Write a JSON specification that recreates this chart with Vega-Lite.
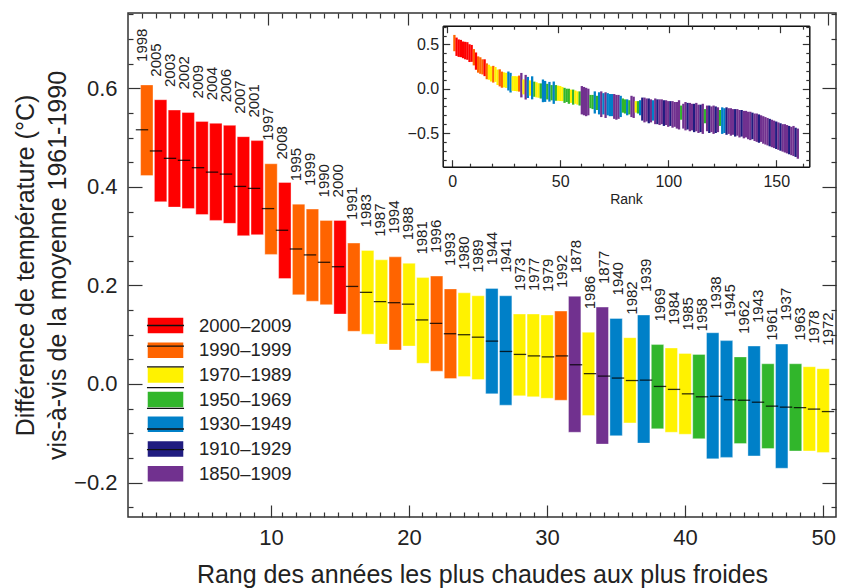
{
"$schema": "https://vega.github.io/schema/vega-lite/v6.json",
"width": 708, "height": 504,
"autosize": {"type": "none"},
"padding": {"left": 128, "top": 13, "right": 16, "bottom": 71},
"config": {
 "font": "Liberation Sans",
 "view": {"stroke": "#333", "strokeWidth": 1.5},
 "axis": {"domain": false, "grid": false, "labelColor": "#222", "titleColor": "#222", "tickColor": "#333", "tickWidth": 1.2, "titleFontWeight": "normal", "labelOverlap": false, "labelFlush": false}
},
"data": {"values": [
{"rank":1,"year":"1998","group":"1990–1999","hi":0.607,"mid":0.516,"lo":0.423},
{"rank":2,"year":"2005","group":"2000–2009","hi":0.577,"mid":0.473,"lo":0.370},
{"rank":3,"year":"2003","group":"2000–2009","hi":0.556,"mid":0.458,"lo":0.359},
{"rank":4,"year":"2002","group":"2000–2009","hi":0.551,"mid":0.454,"lo":0.356},
{"rank":5,"year":"2009","group":"2000–2009","hi":0.533,"mid":0.439,"lo":0.344},
{"rank":6,"year":"2004","group":"2000–2009","hi":0.529,"mid":0.430,"lo":0.332},
{"rank":7,"year":"2006","group":"2000–2009","hi":0.525,"mid":0.426,"lo":0.326},
{"rank":8,"year":"2007","group":"2000–2009","hi":0.502,"mid":0.401,"lo":0.301},
{"rank":9,"year":"2001","group":"2000–2009","hi":0.494,"mid":0.397,"lo":0.303},
{"rank":10,"year":"1997","group":"1990–1999","hi":0.447,"mid":0.356,"lo":0.263},
{"rank":11,"year":"2008","group":"2000–2009","hi":0.409,"mid":0.312,"lo":0.214},
{"rank":12,"year":"1995","group":"1990–1999","hi":0.365,"mid":0.274,"lo":0.181},
{"rank":13,"year":"1999","group":"1990–1999","hi":0.355,"mid":0.262,"lo":0.168},
{"rank":14,"year":"1990","group":"1990–1999","hi":0.332,"mid":0.247,"lo":0.161},
{"rank":15,"year":"2000","group":"2000–2009","hi":0.332,"mid":0.238,"lo":0.142},
{"rank":16,"year":"1991","group":"1990–1999","hi":0.286,"mid":0.198,"lo":0.107},
{"rank":17,"year":"1983","group":"1970–1989","hi":0.271,"mid":0.186,"lo":0.101},
{"rank":18,"year":"1987","group":"1970–1989","hi":0.252,"mid":0.167,"lo":0.081},
{"rank":19,"year":"1994","group":"1990–1999","hi":0.258,"mid":0.165,"lo":0.069},
{"rank":20,"year":"1988","group":"1970–1989","hi":0.245,"mid":0.162,"lo":0.077},
{"rank":21,"year":"1981","group":"1970–1989","hi":0.216,"mid":0.130,"lo":0.042},
{"rank":22,"year":"1996","group":"1990–1999","hi":0.219,"mid":0.123,"lo":0.026},
{"rank":23,"year":"1993","group":"1990–1999","hi":0.193,"mid":0.102,"lo":0.011},
{"rank":24,"year":"1980","group":"1970–1989","hi":0.185,"mid":0.100,"lo":0.015},
{"rank":25,"year":"1989","group":"1970–1989","hi":0.179,"mid":0.095,"lo":0.009},
{"rank":26,"year":"1944","group":"1930–1949","hi":0.194,"mid":0.087,"lo":-0.020},
{"rank":27,"year":"1941","group":"1930–1949","hi":0.179,"mid":0.066,"lo":-0.043},
{"rank":28,"year":"1973","group":"1970–1989","hi":0.142,"mid":0.060,"lo":-0.024},
{"rank":29,"year":"1977","group":"1970–1989","hi":0.142,"mid":0.057,"lo":-0.026},
{"rank":30,"year":"1979","group":"1970–1989","hi":0.140,"mid":0.055,"lo":-0.029},
{"rank":31,"year":"1992","group":"1990–1999","hi":0.148,"mid":0.057,"lo":-0.033},
{"rank":32,"year":"1878","group":"1850–1909","hi":0.178,"mid":0.039,"lo":-0.098},
{"rank":33,"year":"1986","group":"1970–1989","hi":0.105,"mid":0.021,"lo":-0.064},
{"rank":34,"year":"1877","group":"1850–1909","hi":0.156,"mid":0.016,"lo":-0.122},
{"rank":35,"year":"1940","group":"1930–1949","hi":0.133,"mid":0.012,"lo":-0.105},
{"rank":36,"year":"1982","group":"1970–1989","hi":0.094,"mid":0.007,"lo":-0.079},
{"rank":37,"year":"1939","group":"1930–1949","hi":0.140,"mid":0.008,"lo":-0.120},
{"rank":38,"year":"1969","group":"1950–1969","hi":0.080,"mid":-0.005,"lo":-0.091},
{"rank":39,"year":"1984","group":"1970–1989","hi":0.073,"mid":-0.011,"lo":-0.098},
{"rank":40,"year":"1985","group":"1970–1989","hi":0.062,"mid":-0.020,"lo":-0.102},
{"rank":41,"year":"1958","group":"1950–1969","hi":0.060,"mid":-0.026,"lo":-0.111},
{"rank":42,"year":"1938","group":"1930–1949","hi":0.104,"mid":-0.025,"lo":-0.152},
{"rank":43,"year":"1945","group":"1930–1949","hi":0.088,"mid":-0.032,"lo":-0.149},
{"rank":44,"year":"1962","group":"1950–1969","hi":0.055,"mid":-0.033,"lo":-0.121},
{"rank":45,"year":"1943","group":"1930–1949","hi":0.077,"mid":-0.037,"lo":-0.146},
{"rank":46,"year":"1961","group":"1950–1969","hi":0.041,"mid":-0.045,"lo":-0.131},
{"rank":47,"year":"1937","group":"1930–1949","hi":0.081,"mid":-0.047,"lo":-0.171},
{"rank":48,"year":"1963","group":"1950–1969","hi":0.041,"mid":-0.048,"lo":-0.136},
{"rank":49,"year":"1978","group":"1970–1989","hi":0.035,"mid":-0.051,"lo":-0.136},
{"rank":50,"year":"1972","group":"1970–1989","hi":0.031,"mid":-0.056,"lo":-0.139},
{"rank":51,"group":"1970–1989","hi":0.02,"lo":-0.14},
{"rank":52,"group":"1950–1969","hi":0.01,"lo":-0.16},
{"rank":53,"group":"1950–1969","hi":0.00,"lo":-0.15},
{"rank":54,"group":"1950–1969","hi":0.00,"lo":-0.17},
{"rank":55,"group":"1970–1989","hi":-0.01,"lo":-0.16},
{"rank":56,"group":"1950–1969","hi":-0.01,"lo":-0.18},
{"rank":57,"group":"1970–1989","hi":-0.02,"lo":-0.17},
{"rank":58,"group":"1970–1989","hi":-0.03,"lo":-0.18},
{"rank":59,"group":"1950–1969","hi":-0.03,"lo":-0.19},
{"rank":60,"group":"1850–1909","hi":0.03,"lo":-0.29},
{"rank":61,"group":"1850–1909","hi":0.02,"lo":-0.30},
{"rank":62,"group":"1850–1909","hi":0.01,"lo":-0.31},
{"rank":63,"group":"1850–1909","hi":0.00,"lo":-0.30},
{"rank":64,"group":"1950–1969","hi":-0.07,"lo":-0.22},
{"rank":65,"group":"1950–1969","hi":-0.07,"lo":-0.23},
{"rank":66,"group":"1930–1949","hi":-0.03,"lo":-0.28},
{"rank":67,"group":"1950–1969","hi":-0.08,"lo":-0.24},
{"rank":68,"group":"1930–1949","hi":-0.04,"lo":-0.29},
{"rank":69,"group":"1850–1909","hi":-0.03,"lo":-0.32},
{"rank":70,"group":"1930–1949","hi":-0.05,"lo":-0.29},
{"rank":71,"group":"1850–1909","hi":-0.04,"lo":-0.33},
{"rank":72,"group":"1930–1949","hi":-0.05,"lo":-0.30},
{"rank":73,"group":"1930–1949","hi":-0.06,"lo":-0.31},
{"rank":74,"group":"1930–1949","hi":-0.06,"lo":-0.31},
{"rank":75,"group":"1850–1909","hi":-0.06,"lo":-0.34},
{"rank":76,"group":"1850–1909","hi":-0.07,"lo":-0.35},
{"rank":77,"group":"1850–1909","hi":-0.07,"lo":-0.34},
{"rank":78,"group":"1930–1949","hi":-0.08,"lo":-0.32},
{"rank":79,"group":"1950–1969","hi":-0.11,"lo":-0.27},
{"rank":80,"group":"1950–1969","hi":-0.12,"lo":-0.28},
{"rank":81,"group":"1930–1949","hi":-0.12,"lo":-0.30},
{"rank":82,"group":"1950–1969","hi":-0.13,"lo":-0.29},
{"rank":83,"group":"1850–1909","hi":-0.08,"lo":-0.32},
{"rank":84,"group":"1850–1909","hi":-0.09,"lo":-0.33},
{"rank":85,"group":"1970–1989","hi":-0.14,"lo":-0.27},
{"rank":86,"group":"1950–1969","hi":-0.14,"lo":-0.28},
{"rank":87,"group":"1930–1949","hi":-0.13,"lo":-0.30},
{"rank":88,"group":"1910–1929","hi":-0.10,"lo":-0.36},
{"rank":89,"group":"1850–1909","hi":-0.10,"lo":-0.38},
{"rank":90,"group":"1850–1909","hi":-0.11,"lo":-0.37},
{"rank":91,"group":"1910–1929","hi":-0.11,"lo":-0.39},
{"rank":92,"group":"1850–1909","hi":-0.12,"lo":-0.38},
{"rank":93,"group":"1930–1949","hi":-0.13,"lo":-0.36},
{"rank":94,"group":"1850–1909","hi":-0.11,"lo":-0.40},
{"rank":95,"group":"1910–1929","hi":-0.12,"lo":-0.40},
{"rank":96,"group":"1850–1909","hi":-0.12,"lo":-0.41},
{"rank":97,"group":"1850–1909","hi":-0.12,"lo":-0.40},
{"rank":98,"group":"1910–1929","hi":-0.13,"lo":-0.42},
{"rank":99,"group":"1850–1909","hi":-0.13,"lo":-0.41},
{"rank":100,"group":"1850–1909","hi":-0.14,"lo":-0.43},
{"rank":101,"group":"1910–1929","hi":-0.14,"lo":-0.42},
{"rank":102,"group":"1850–1909","hi":-0.14,"lo":-0.44},
{"rank":103,"group":"1850–1909","hi":-0.15,"lo":-0.43},
{"rank":104,"group":"1850–1909","hi":-0.15,"lo":-0.45},
{"rank":105,"group":"1850–1909","hi":-0.13,"lo":-0.46},
{"rank":106,"group":"1950–1969","hi":-0.19,"lo":-0.35},
{"rank":107,"group":"1850–1909","hi":-0.17,"lo":-0.45},
{"rank":108,"group":"1850–1909","hi":-0.15,"lo":-0.47},
{"rank":109,"group":"1910–1929","hi":-0.16,"lo":-0.46},
{"rank":110,"group":"1850–1909","hi":-0.16,"lo":-0.48},
{"rank":111,"group":"1850–1909","hi":-0.17,"lo":-0.47},
{"rank":112,"group":"1910–1929","hi":-0.17,"lo":-0.49},
{"rank":113,"group":"1850–1909","hi":-0.16,"lo":-0.48},
{"rank":114,"group":"1850–1909","hi":-0.18,"lo":-0.50},
{"rank":115,"group":"1910–1929","hi":-0.18,"lo":-0.49},
{"rank":116,"group":"1850–1909","hi":-0.17,"lo":-0.51},
{"rank":117,"group":"1950–1969","hi":-0.23,"lo":-0.39},
{"rank":118,"group":"1850–1909","hi":-0.19,"lo":-0.48},
{"rank":119,"group":"1910–1929","hi":-0.19,"lo":-0.50},
{"rank":120,"group":"1850–1909","hi":-0.20,"lo":-0.49},
{"rank":121,"group":"1850–1909","hi":-0.19,"lo":-0.51},
{"rank":122,"group":"1910–1929","hi":-0.20,"lo":-0.50},
{"rank":123,"group":"1850–1909","hi":-0.21,"lo":-0.49},
{"rank":124,"group":"1950–1969","hi":-0.24,"lo":-0.42},
{"rank":125,"group":"1930–1949","hi":-0.21,"lo":-0.51},
{"rank":126,"group":"1930–1949","hi":-0.22,"lo":-0.50},
{"rank":127,"group":"1910–1929","hi":-0.21,"lo":-0.52},
{"rank":128,"group":"1850–1909","hi":-0.22,"lo":-0.51},
{"rank":129,"group":"1850–1909","hi":-0.22,"lo":-0.53},
{"rank":130,"group":"1850–1909","hi":-0.23,"lo":-0.52},
{"rank":131,"group":"1910–1929","hi":-0.23,"lo":-0.54},
{"rank":132,"group":"1850–1909","hi":-0.23,"lo":-0.53},
{"rank":133,"group":"1850–1909","hi":-0.24,"lo":-0.55},
{"rank":134,"group":"1910–1929","hi":-0.24,"lo":-0.54},
{"rank":135,"group":"1850–1909","hi":-0.25,"lo":-0.56},
{"rank":136,"group":"1850–1909","hi":-0.25,"lo":-0.55},
{"rank":137,"group":"1850–1909","hi":-0.26,"lo":-0.57},
{"rank":138,"group":"1850–1909","hi":-0.26,"lo":-0.58},
{"rank":139,"group":"1910–1929","hi":-0.27,"lo":-0.57},
{"rank":140,"group":"1850–1909","hi":-0.28,"lo":-0.59},
{"rank":141,"group":"1850–1909","hi":-0.28,"lo":-0.60},
{"rank":142,"group":"1910–1929","hi":-0.29,"lo":-0.61},
{"rank":143,"group":"1850–1909","hi":-0.30,"lo":-0.60},
{"rank":144,"group":"1850–1909","hi":-0.31,"lo":-0.62},
{"rank":145,"group":"1850–1909","hi":-0.32,"lo":-0.63},
{"rank":146,"group":"1850–1909","hi":-0.33,"lo":-0.64},
{"rank":147,"group":"1910–1929","hi":-0.34,"lo":-0.65},
{"rank":148,"group":"1850–1909","hi":-0.35,"lo":-0.66},
{"rank":149,"group":"1850–1909","hi":-0.36,"lo":-0.67},
{"rank":150,"group":"1910–1929","hi":-0.37,"lo":-0.68},
{"rank":151,"group":"1850–1909","hi":-0.38,"lo":-0.69},
{"rank":152,"group":"1910–1929","hi":-0.39,"lo":-0.70},
{"rank":153,"group":"1850–1909","hi":-0.40,"lo":-0.71},
{"rank":154,"group":"1850–1909","hi":-0.40,"lo":-0.72},
{"rank":155,"group":"1850–1909","hi":-0.41,"lo":-0.73},
{"rank":156,"group":"1910–1929","hi":-0.42,"lo":-0.74},
{"rank":157,"group":"1850–1909","hi":-0.43,"lo":-0.75},
{"rank":158,"group":"1850–1909","hi":-0.42,"lo":-0.76},
{"rank":159,"group":"1910–1929","hi":-0.44,"lo":-0.77},
{"rank":160,"group":"1850–1909","hi":-0.45,"lo":-0.79}
]},
"resolve": {"scale": {"x": "independent", "y": "independent"}},
"layer": [
 {
  "transform": [{"filter": "datum.rank <= 50"}],
  "mark": {"type": "bar", "width": 12.4, "stroke": "white", "strokeOpacity": 0.45, "strokeWidth": 0.8},
  "encoding": {
   "x": {"field": "rank", "type": "quantitative",
     "scale": {"domain": [0, 50.57], "nice": false, "zero": false},
     "axis": {"orient": "bottom", "values": [10,20,30,40,50], "tickSize": -12,
       "labelPadding": 22, "labelFontSize": 22,
       "title": "Rang des années les plus chaudes aux plus froides", "titleFontSize": 25, "titlePadding": 14}},
   "y": {"field": "hi", "type": "quantitative",
     "scale": {"domain": [-0.27, 0.753], "nice": false, "zero": false},
     "axis": {"orient": "left", "values": [-0.2,0,0.2,0.4,0.6], "format": ".1f", "tickSize": -14,
       "labelPadding": 25, "labelFontSize": 22,
       "title": ["Différence de température (°C)", "vis-à-vis de la moyenne 1961-1990"], "titleFontSize": 25, "titlePadding": 3, "titleLineHeight": 32}},
   "y2": {"field": "lo"},
   "color": {"field": "group", "type": "nominal",
     "scale": {"domain": ["2000–2009","1990–1999","1970–1989","1950–1969","1930–1949","1910–1929","1850–1909"],
               "range": ["#FE0000","#FF6400","#FFF200","#31B62B","#0080C8","#201C80","#71318F"]},
     "legend": {"orient": "none", "legendX": 28, "legendY": 303, "title": null,
       "symbolType": "M-2.18,-1H2.18V1H-2.18Z", "symbolSize": 289, "labelFontSize": 18.5, "labelColor": "#222",
       "labelOffset": 24, "rowPadding": 1.7}}
  }
 },
 {
  "transform": [{"filter": "datum.rank <= 50"}],
  "mark": {"type": "tick", "orient": "horizontal", "size": 12.4, "thickness": 1.3, "color": "#000", "opacity": 0.8},
  "encoding": {
   "x": {"field": "rank", "type": "quantitative", "scale": {"domain": [0, 50.57], "nice": false, "zero": false}, "axis": null},
   "y": {"field": "mid", "type": "quantitative", "scale": {"domain": [-0.27, 0.753], "nice": false, "zero": false}, "axis": null}
  }
 },
 {
  "transform": [{"filter": "datum.rank <= 50"}],
  "mark": {"type": "text", "angle": 270, "align": "left", "baseline": "middle", "dx": 23, "fontSize": 15, "color": "#222"},
  "encoding": {
   "x": {"field": "rank", "type": "quantitative", "scale": {"domain": [0, 50.57], "nice": false, "zero": false}, "axis": null},
   "y": {"field": "hi", "type": "quantitative", "scale": {"domain": [-0.27, 0.753], "nice": false, "zero": false}, "axis": null},
   "text": {"field": "year", "type": "nominal"}
  }
 },
 {
  "transform": [{"filter": "datum.rank <= 50"}],
  "mark": {"type": "point", "opacity": 0},
  "encoding": {
   "x": {"field": "rank", "type": "quantitative", "scale": {"domain": [0, 50.57], "nice": false, "zero": false},
     "axis": {"orient": "bottom", "labels": false, "title": null, "tickSize": -5,
       "values": [1,2,3,4,5,6,7,8,9,11,12,13,14,15,16,17,18,19,21,22,23,24,25,26,27,28,29,31,32,33,34,35,36,37,38,39,41,42,43,44,45,46,47,48,49]}},
   "y": {"field": "hi", "type": "quantitative", "scale": {"domain": [-0.27, 0.753], "nice": false, "zero": false},
     "axis": {"orient": "left", "labels": false, "title": null, "tickSize": -5,
       "values": [-0.25,-0.15,-0.1,-0.05,0.05,0.1,0.15,0.25,0.3,0.35,0.45,0.5,0.55,0.65,0.7,0.75]}}
  }
 },
 {
  "transform": [{"filter": "datum.rank <= 50"}],
  "mark": {"type": "point", "opacity": 0},
  "encoding": {
   "x": {"field": "rank", "type": "quantitative", "scale": {"domain": [0, 50.57], "nice": false, "zero": false},
     "axis": {"orient": "top", "labels": false, "title": null, "tickSize": -12, "values": [10,20,30,40,50]}},
   "y": {"field": "hi", "type": "quantitative", "scale": {"domain": [-0.27, 0.753], "nice": false, "zero": false},
     "axis": {"orient": "right", "labels": false, "title": null, "tickSize": -14, "values": [-0.2,0,0.2,0.4,0.6]}}
  }
 },
 {
  "transform": [{"filter": "datum.rank <= 50"}],
  "mark": {"type": "point", "opacity": 0},
  "encoding": {
   "x": {"field": "rank", "type": "quantitative", "scale": {"domain": [0, 50.57], "nice": false, "zero": false},
     "axis": {"orient": "top", "labels": false, "title": null, "tickSize": -5,
       "values": [1,2,3,4,5,6,7,8,9,11,12,13,14,15,16,17,18,19,21,22,23,24,25,26,27,28,29,31,32,33,34,35,36,37,38,39,41,42,43,44,45,46,47,48,49]}},
   "y": {"field": "hi", "type": "quantitative", "scale": {"domain": [-0.27, 0.753], "nice": false, "zero": false},
     "axis": {"orient": "right", "labels": false, "title": null, "tickSize": -5,
       "values": [-0.25,-0.15,-0.1,-0.05,0.05,0.1,0.15,0.25,0.3,0.35,0.45,0.5,0.55,0.65,0.7,0.75]}}
  }
 },
 {
  "mark": {"type": "bar", "width": 2.3},
  "encoding": {
   "x": {"field": "rank", "type": "quantitative",
     "scale": {"domain": [-2.1, 163], "range": [314.7, 681.3], "nice": false, "zero": false},
     "axis": {"orient": "bottom", "offset": -350.3, "domain": true, "domainColor": "#111", "domainWidth": 1.5,
       "values": [0,50,100,150], "tickSize": -7,
       "labelPadding": 14, "labelFontSize": 16, "title": "Rank", "titleFontSize": 14, "titlePadding": 3}},
   "y": {"field": "hi", "type": "quantitative",
     "scale": {"domain": [-0.88, 0.711], "range": [153.7, 12.7], "nice": false, "zero": false},
     "axis": {"orient": "left", "offset": -314.7, "domain": true, "domainColor": "#111", "domainWidth": 1.5,
       "values": [-0.5,0,0.5], "format": ".1f", "tickSize": -7,
       "labelPadding": 11, "labelFontSize": 16, "title": null}},
   "y2": {"field": "lo"},
   "color": {"field": "group", "type": "nominal"}
  }
 },
 {
  "mark": {"type": "point", "opacity": 0},
  "encoding": {
   "x": {"field": "rank", "type": "quantitative",
     "scale": {"domain": [-2.1, 163], "range": [314.7, 681.3], "nice": false, "zero": false},
     "axis": {"orient": "bottom", "offset": -350.3, "labels": false, "title": null, "tickSize": -3.5,
       "values": [10,20,30,40,60,70,80,90,110,120,130,140,160]}},
   "y": {"field": "hi", "type": "quantitative",
     "scale": {"domain": [-0.88, 0.711], "range": [153.7, 12.7], "nice": false, "zero": false},
     "axis": {"orient": "left", "offset": -314.7, "labels": false, "title": null, "tickSize": -3.5,
       "values": [-0.8,-0.7,-0.6,-0.4,-0.3,-0.2,-0.1,0.1,0.2,0.3,0.4,0.6,0.7]}}
  }
 },
 {
  "mark": {"type": "point", "opacity": 0},
  "encoding": {
   "x": {"field": "rank", "type": "quantitative",
     "scale": {"domain": [-2.1, 163], "range": [314.7, 681.3], "nice": false, "zero": false},
     "axis": {"orient": "top", "offset": -12.7, "domain": true, "domainColor": "#111", "domainWidth": 1.5, "labels": false, "title": null,
       "values": [0,50,100,150], "tickSize": -7}},
   "y": {"field": "hi", "type": "quantitative",
     "scale": {"domain": [-0.88, 0.711], "range": [153.7, 12.7], "nice": false, "zero": false},
     "axis": {"orient": "right", "offset": -26.7, "domain": true, "domainColor": "#111", "domainWidth": 1.5, "labels": false, "title": null,
       "values": [-0.5,0,0.5], "tickSize": -7}}
  }
 },
 {
  "mark": {"type": "rule", "strokeWidth": 0},
  "encoding": {
   "x": {"field": "rank", "type": "quantitative",
     "scale": {"domain": [-2.1, 163], "range": [314.7, 681.3], "nice": false, "zero": false},
     "axis": {"orient": "top", "offset": -12.7, "labels": false, "title": null, "tickSize": -3.5,
       "values": [10,20,30,40,60,70,80,90,110,120,130,140,160]}},
   "y": {"field": "hi", "type": "quantitative",
     "scale": {"domain": [-0.88, 0.711], "range": [153.7, 12.7], "nice": false, "zero": false},
     "axis": {"orient": "right", "offset": -26.7, "labels": false, "title": null, "tickSize": -3.5,
       "values": [-0.8,-0.7,-0.6,-0.4,-0.3,-0.2,-0.1,0.1,0.2,0.3,0.4,0.6,0.7]}},
   "y2": {"field": "lo"},
   "stroke": {"field": "group", "type": "nominal", "sort": "descending",
     "scale": {"range": ["#111","#111","#111","#111","#111","#111","#111"]},
     "legend": {"orient": "none", "legendX": 28, "legendY": 303, "title": null,
       "symbolType": "M-2.18,0H2.18", "symbolSize": 289, "labelFontSize": 18.5, "labelOpacity": 0,
       "labelOffset": 247, "rowPadding": 1.7,
       "encode": {"symbols": {"update": {"strokeWidth": {"value": 1.3}, "opacity": {"value": 1}, "stroke": {"value": "#111"}}}}}}
  }
 }
]
}
